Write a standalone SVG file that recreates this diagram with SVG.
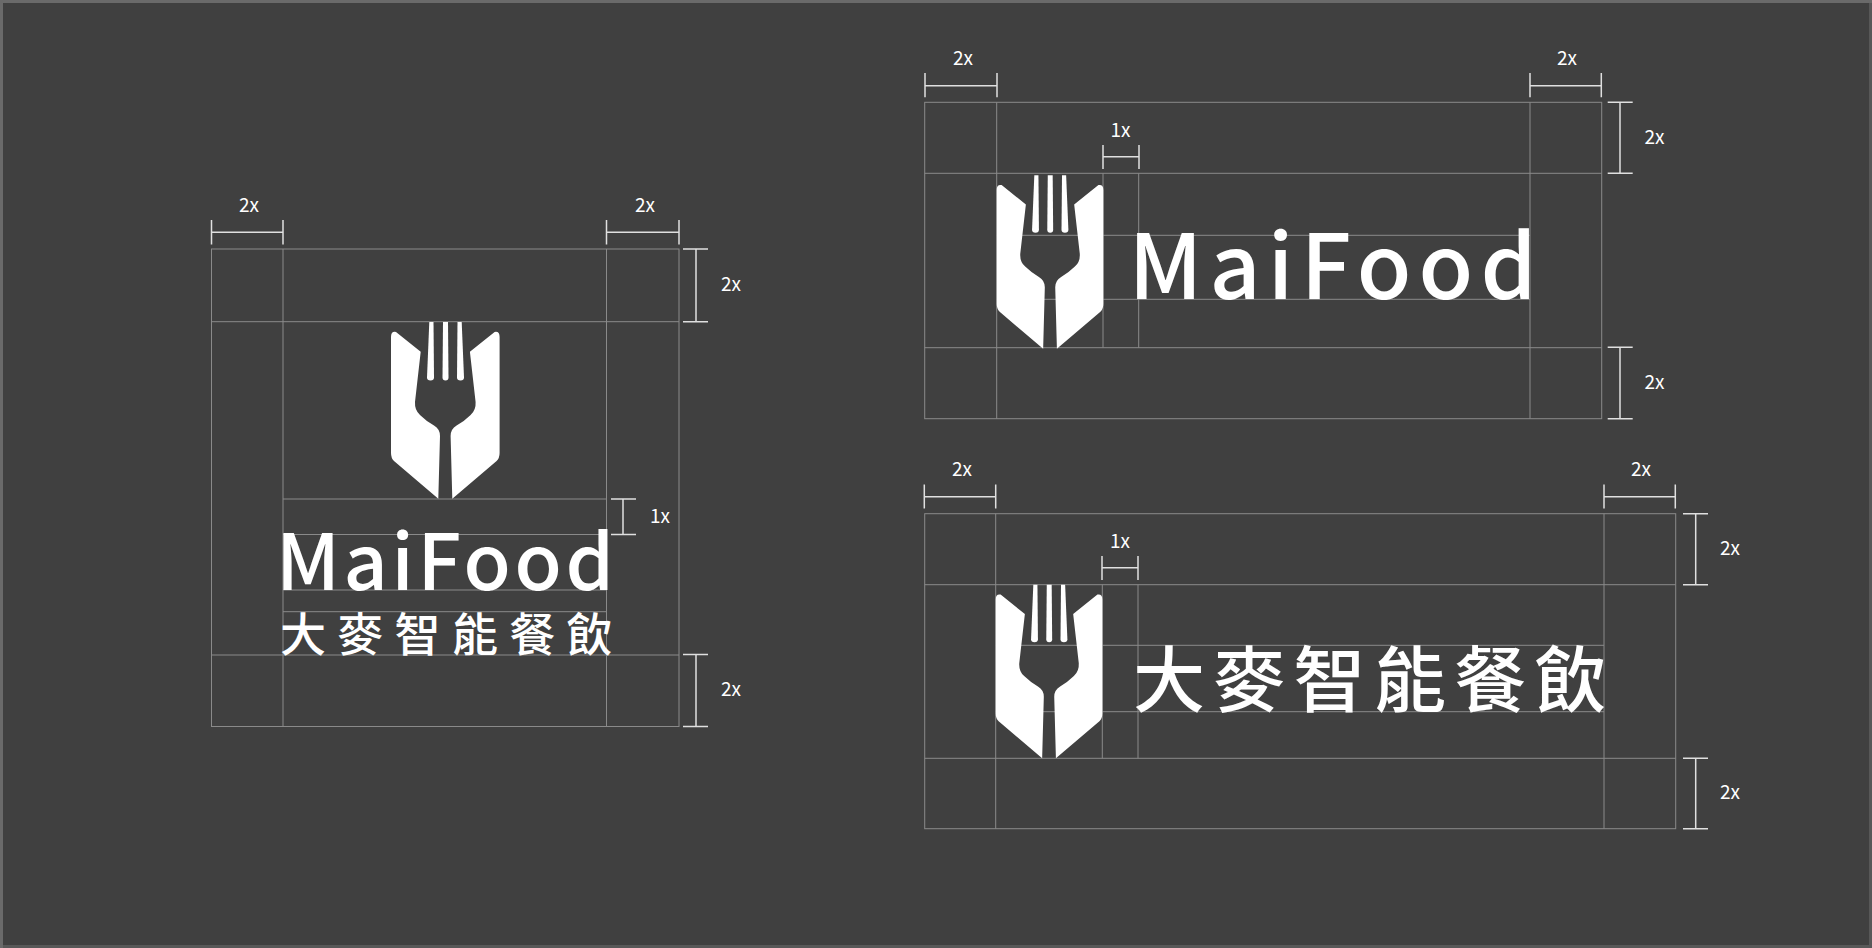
<svg xmlns="http://www.w3.org/2000/svg" width="1872" height="948" viewBox="0 0 1872 948">
<style>
.g{stroke:#8a8a8a;stroke-width:1;fill:none}
.d{stroke:#e0e0e0;stroke-width:1.5;fill:none}
.l{font-family:"Noto Sans CJK TC","Liberation Sans",sans-serif;font-size:19px;fill:#fff;text-anchor:middle}
.w{font-family:"Noto Sans CJK TC","Liberation Sans",sans-serif;font-weight:500;fill:#fff}
</style>
<defs>
<g id="logo" fill="#fff">
<path d="M11,27Q11,21 16,22L40.700,41.700L35,92Q34.500,100 40,105Q46,111 54,115.500Q60,119 60,126L58.300,188.700L14,151Q11,148 11,143Z"/>
<path d="M119.600,27Q119.600,21 114.600,22L89.900,41.700L95.600,92Q96.100,100 90.600,105Q84.600,111 76.600,115.500Q70.600,119 70.600,126L72.300,188.700L116.600,151Q119.600,148 119.600,143Z"/>
<path d="M49.300,12H53.500L54,67.500Q54,70.500 50.500,70.500Q47,70.500 47,67.500Z"/>
<path d="M63,12H68L68.500,67.500Q68.500,70.500 65.500,70.500Q62.500,70.500 62.500,67.500Z"/>
<path d="M77.500,12H81.700L84,67.500Q84,70.500 80.500,70.500Q77,70.500 77,67.500Z"/>
</g>
</defs>
<rect x="0" y="0" width="1872" height="948" fill="#404040"/>
<path d="M1869,0H1872V948H0V945H1869Z" fill="#585858"/>
<path d="M0,0H1872V3H3V948H0Z" fill="#6a6a6a"/>

<g id="connectors">
<g id="grid-stacked" class="g">
<rect x="211.500" y="249" width="467.500" height="477.500"/>
<path d="M283,249V726.500M606.500,249V726.500M211.500,321.700H679M211.500,655H679M283,499H606.500M283,534.500H606.500M283,590H606.500M283,611.700H606.500"/>
</g>
<g id="grid-en" class="g">
<rect x="924.700" y="102.300" width="677" height="316.400"/>
<path d="M996.700,102.300V418.700M1530,102.300V418.700M924.700,173.300H1601.700M924.700,347.700H1601.700M996.700,235.300H1530M996.700,299.300H1530M1103,173.300V347.700M1138.700,173.300V347.700"/>
</g>
<g id="grid-zh" class="g">
<rect x="924.700" y="513.700" width="751" height="315"/>
<path d="M995.700,513.700V828.700M1604,513.700V828.700M924.700,584.700H1675.700M924.700,758.300H1675.700M995.700,645.300H1604M995.700,711.700H1604M1102.300,584.700V758.300M1138,584.700V758.300"/>
</g>
<g id="dims" class="d">
<path d="M211.500,220V244.500M283,220V244.500M211.500,232.300H283"/>
<path d="M606.500,220V244.500M679,220V244.500M606.500,232.300H679"/>
<path d="M683,249H708M683,321.700H708M696,249V321.700"/>
<path d="M611,499H636M611,534.500H636M623,499V534.500"/>
<path d="M683,654.500H708M683,726.500H708M696,654.500V726.500"/>
<path d="M925,73V97.300M997,73V97.300M925,85.700H997"/>
<path d="M1530,73V97.300M1601.300,73V97.300M1530,85.700H1601.300"/>
<path d="M1103,145V169M1139,145V169M1103,156.700H1139"/>
<path d="M1607.700,102.300H1632.700M1607.700,173.300H1632.700M1620,102.300V173.300"/>
<path d="M1607.700,347.300H1632.700M1607.700,418.700H1632.700M1620,347.300V418.700"/>
<path d="M924.300,484.500V508.500M995.700,484.500V508.500M924.300,496.700H995.700"/>
<path d="M1604,484.500V508.500M1675.300,484.500V508.500M1604,496.700H1675.300"/>
<path d="M1102,556V580M1138,556V580M1102,567.700H1138"/>
<path d="M1683,513.700H1708M1683,584.700H1708M1695.700,513.700V584.700"/>
<path d="M1683,758.300H1708M1683,828.700H1708M1695.700,758.300V828.700"/>
</g>
</g>

<g id="labels" class="l">
<text x="249" y="211.500">2x</text><text x="645" y="211.500">2x</text><text x="731" y="291">2x</text><text x="660" y="523">1x</text><text x="731" y="696">2x</text>
<text x="963" y="64.500">2x</text><text x="1120.500" y="136.500">1x</text><text x="1567" y="64.500">2x</text><text x="1654.500" y="144">2x</text><text x="1654.500" y="388.500">2x</text>
<text x="962" y="475.500">2x</text><text x="1120" y="547.500">1x</text><text x="1641" y="475.500">2x</text><text x="1730" y="555">2x</text><text x="1730" y="799">2x</text>
</g>

<g id="lockup-stacked">
<use href="#logo" transform="translate(380,310)"/>
<text class="w" x="276" y="590" font-size="77" textLength="338" lengthAdjust="spacing">MaiFood</text>
<text class="w" x="280" y="650.500" font-size="46" letter-spacing="11.300">大麥智能餐飲</text>
</g>
<g id="lockup-en">
<use href="#logo" transform="translate(985.900,163.500) scale(.982)"/>
<text class="w" x="1128.500" y="299.300" font-size="89" textLength="408" lengthAdjust="spacing">MaiFood</text>
</g>
<g id="lockup-zh">
<use href="#logo" transform="translate(984.900,573) scale(.982)"/>
<text class="w" x="1133" y="706" font-size="72" letter-spacing="8.300">大麥智能餐飲</text>
</g>
</svg>
